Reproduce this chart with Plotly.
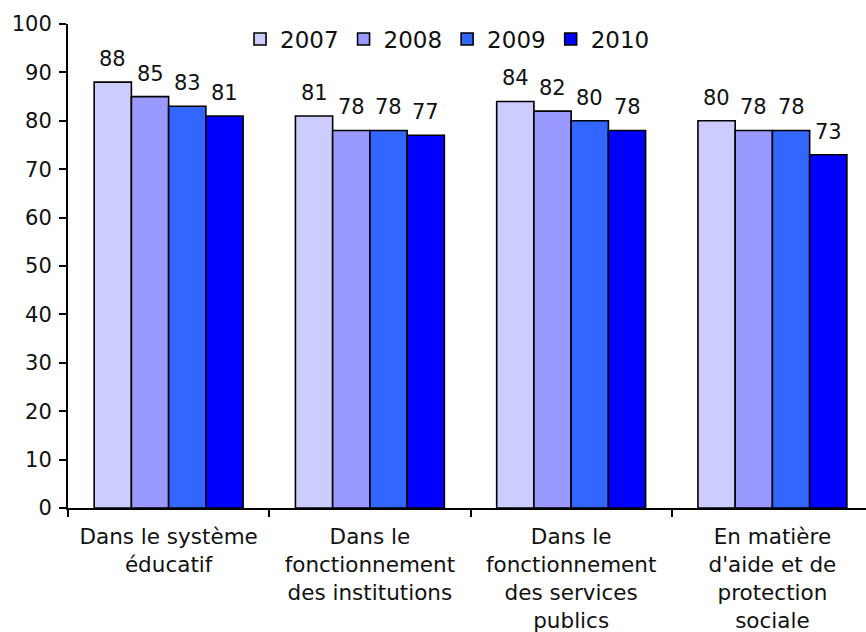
import plotly.graph_objects as go

# Survey results by domain and year (percentages)
categories = [
    "Dans le système<br>éducatif",
    "Dans le<br>fonctionnement<br>des institutions",
    "Dans le<br>fonctionnement<br>des services<br>publics",
    "En matière<br>d'aide et de<br>protection<br>sociale",
]
years = ["2007", "2008", "2009", "2010"]
values_2007 = [88, 81, 84, 80]
values_2008 = [85, 78, 82, 78]
values_2009 = [83, 78, 80, 78]
values_2010 = [81, 77, 78, 73]
series = [values_2007, values_2008, values_2009, values_2010]
colors = ["#CCCCFF", "#9999FF", "#3366FF", "#0000FF"]
y_ticks = list(range(0, 101, 10))

FONT = "Verdana, DejaVu Sans, sans-serif"
BARGAP = 0.26

fig = go.Figure()
for name, vals, col in zip(years, series, colors):
    fig.add_trace(go.Bar(
        name=name,
        x=categories,
        y=vals,
        marker=dict(color=col, line=dict(color="black", width=1.6)),
    ))

# Value labels above each bar, placed at the grouped-bar centres
group_w = 1 - BARGAP
bar_w = group_w / len(series)
annotations = []
for k, vals in enumerate(series):
    off = -group_w / 2 + bar_w * (k + 0.5)
    for i, v in enumerate(vals):
        annotations.append(dict(
            x=i + off, y=v, xref="x", yref="y",
            text=str(v), showarrow=False,
            yanchor="bottom", yshift=9,
            font=dict(family=FONT, size=21, color="#111111"),
        ))

fig.update_layout(
    width=866, height=632,
    margin=dict(l=68, r=0, t=24, b=124, autoexpand=False),
    paper_bgcolor="white",
    plot_bgcolor="white",
    barmode="group",
    bargap=BARGAP,
    bargroupgap=0,
    font=dict(family=FONT, color="#111111"),
    showlegend=True,
    legend=dict(
        orientation="h",
        x=0.4756, xanchor="center",
        y=0.969, yanchor="middle",
        font=dict(family=FONT, size=23, color="#111111"),
        itemwidth=30,
        bgcolor="rgba(0,0,0,0)",
    ),
    annotations=annotations,
    xaxis=dict(
        range=[-0.5, 3.465],
        automargin=False,
        showline=True, linecolor="black", linewidth=2,
        ticks="outside", tickson="boundaries", ticklen=7,
        tickcolor="black", tickwidth=2,
        tickfont=dict(family=FONT, size=21.5, color="#111111"),
        ticklabelstandoff=8,
        showgrid=False, zeroline=False,
    ),
    yaxis=dict(
        range=[0, 100],
        automargin=False,
        tickvals=y_ticks,
        showline=True, linecolor="black", linewidth=2,
        ticks="outside", ticklen=7, tickcolor="black", tickwidth=2,
        tickfont=dict(family=FONT, size=21, color="#111111"),
        ticklabelstandoff=3,
        showgrid=False, zeroline=False,
    ),
)

fig.write_html("out.html")
